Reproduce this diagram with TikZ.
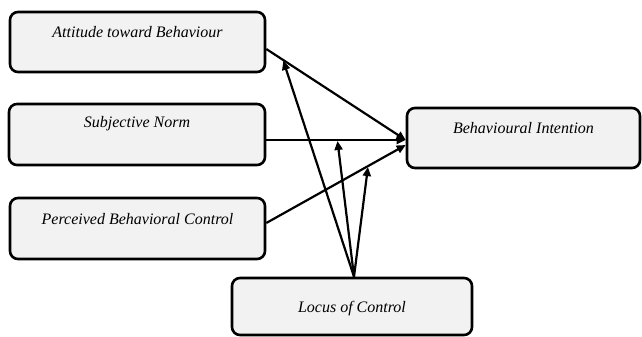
\documentclass[tikz,border=0pt]{standalone}
\usepackage{fontspec}
\setmainfont{Liberation Serif}
\usetikzlibrary{arrows.meta}
\definecolor{boxfill}{HTML}{F2F2F2}
\tikzset{
  box/.style={draw=black, line width=2.6pt, rounded corners=8pt, fill=boxfill, inner sep=0pt},
  lbl/.style={anchor=center, inner sep=0pt, font=\fontsize{16}{18}\selectfont\itshape},
  conn/.style={line width=2.2pt, -{Triangle[length=9pt,width=8pt]}},
}
\begin{document}
\begin{tikzpicture}[x=1pt,y=-1pt]
\useasboundingbox (0,0) rectangle (642,337);
\node[box, minimum width=255pt, minimum height=60pt,
  label={[lbl, yshift=-21pt]north:Attitude toward Behaviour}] (att) at (137.5,42) {};
\node[box, minimum width=256pt, minimum height=61pt,
  label={[lbl, yshift=-21pt]north:Subjective Norm}] (sn) at (137,134.5) {};
\node[box, minimum width=255pt, minimum height=61pt,
  label={[lbl, yshift=-22pt]north:Perceived Behavioral Control}] (pbc) at (137.5,228.5) {};
\node[box, minimum width=233pt, minimum height=60pt,
  label={[lbl, yshift=-21pt]north:Behavioural Intention}] (bi) at (523.5,138) {};
\node[box, minimum width=240pt, minimum height=57pt,
  label={[lbl, yshift=-32pt]north:Locus of Control}] (loc) at (352,306.5) {};

\coordinate (locs) at ([xshift=2pt]loc.north);

\draw[conn] ([yshift=-7pt]att.east) -- coordinate[pos=0.12] (m1) ([yshift=-2pt]bi.west);
\draw[conn] ([yshift=-5.5pt]sn.east) -- coordinate[pos=0.51] (m2) ([yshift=-2pt]bi.west);
\draw[conn] ([yshift=5.5pt]pbc.east) -- coordinate[pos=0.73] (m3) ([yshift=-7pt]bi.west);

\draw[conn, shorten >=1pt] (locs) -- (m1);
\draw[conn, shorten >=1pt] (locs) -- (m2);
\draw[conn, shorten >=1pt] (locs) -- (m3);
\end{tikzpicture}
\end{document}
